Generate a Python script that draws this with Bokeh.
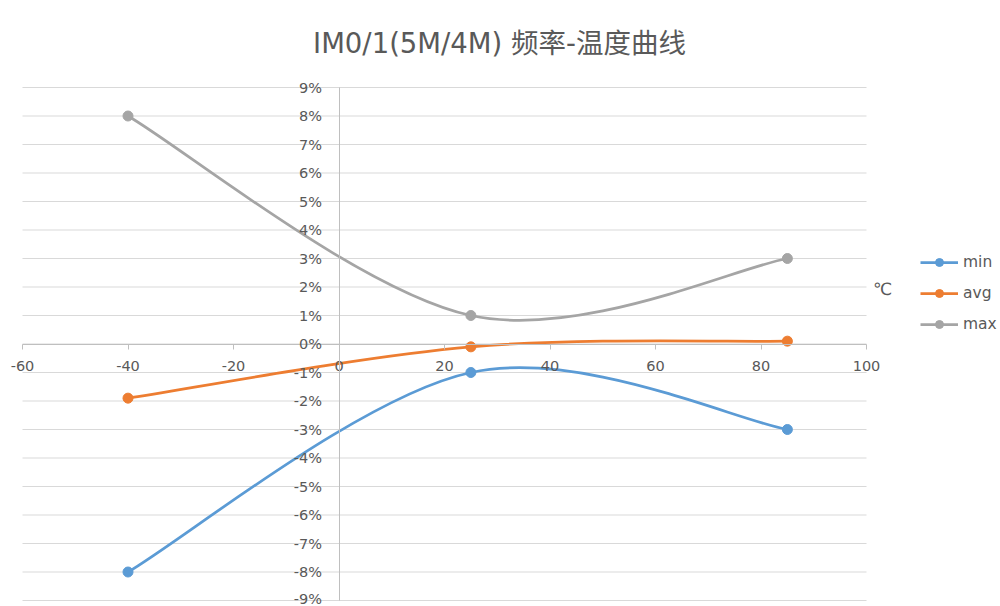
from bokeh.plotting import figure
from bokeh.models import (Range1d, FixedTicker, PrintfTickFormatter, ColumnDataSource,
                          Legend, LegendItem, Label)
from bokeh.embed import file_html
from bokeh.resources import INLINE

# ---------------- data ----------------
title_text = "IM0/1(5M/4M) 频率-温度曲线"
x_unit_label = "℃"
temps = [-40, 25, 85]
series_names = ["min", "avg", "max"]
min_vals = [-8.0, -1.0, -3.0]
avg_vals = [-1.9, -0.1, 0.1]
max_vals = [8.0, 1.0, 3.0]
x_ticks = [-60, -40, -20, 0, 20, 40, 60, 80, 100]
y_ticks = [-9, -8, -7, -6, -5, -4, -3, -2, -1, 0, 1, 2, 3, 4, 5, 6, 7, 8, 9]

# ---------------- style ----------------
series_colors = {"min": "#5B9BD5", "avg": "#ED7D31", "max": "#A5A5A5"}
TEXT = "#595959"
GRID = "#D9D9D9"
AXIS = "#BFBFBF"
FONT = "DejaVu Sans"

W, H = 1000, 606
FRAME_H = H


def smooth_segments(xs, ys):
    """Excel-style smoothed line: cubic Bezier control points (Catmull-Rom)."""
    n = len(xs)
    d = dict(x0=[], y0=[], x1=[], y1=[], cx0=[], cy0=[], cx1=[], cy1=[])
    for i in range(n - 1):
        a = max(i - 1, 0)
        b = min(i + 2, n - 1)
        d["x0"].append(xs[i]); d["y0"].append(ys[i])
        d["x1"].append(xs[i + 1]); d["y1"].append(ys[i + 1])
        d["cx0"].append(xs[i] + (xs[i + 1] - xs[a]) / 6.0)
        d["cy0"].append(ys[i] + (ys[i + 1] - ys[a]) / 6.0)
        d["cx1"].append(xs[i + 1] - (xs[b] - xs[i]) / 6.0)
        d["cy1"].append(ys[i + 1] - (ys[b] - ys[i]) / 6.0)
    return d


# frame mapping: -60 -> x 22, 100 -> x 866 ; 9% -> y 87, -9% -> y 600
xs_per_px = (x_ticks[-1] - x_ticks[0]) / 844.0
ys_per_px = (y_ticks[-1] - y_ticks[0]) / 513.0
x_range = Range1d(x_ticks[0] - 22 * xs_per_px, x_ticks[-1] + (W - 866) * xs_per_px)
y_range = Range1d(y_ticks[0] - (FRAME_H - 600) * ys_per_px, y_ticks[-1] + 87 * ys_per_px)

p = figure(width=W, height=H, x_range=x_range, y_range=y_range,
           output_backend="svg", toolbar_location=None, min_border=0,
           outline_line_color=None, background_fill_color="white")
p.xgrid.visible = False
p.ygrid.visible = False

# horizontal gridlines from -60 to 100
p.segment(x0=[x_ticks[0]] * len(y_ticks), x1=[x_ticks[-1]] * len(y_ticks),
          y0=y_ticks, y1=y_ticks, line_color=GRID, line_width=1)

# axes crossing at zero
xa = p.xaxis[0]
xa.fixed_location = 0
xa.bounds = (x_ticks[0], x_ticks[-1])
xa.ticker = FixedTicker(ticks=x_ticks)
xa.formatter = PrintfTickFormatter(format="%d")
xa.axis_line_color = AXIS
xa.major_tick_line_color = AXIS
xa.major_tick_out = 5
xa.major_tick_in = 0
xa.minor_tick_line_color = None
xa.major_label_text_color = TEXT
xa.major_label_text_font = FONT
xa.major_label_text_font_size = "14.5px"
xa.major_label_standoff = 12

ya = p.yaxis[0]
ya.fixed_location = 0
ya.bounds = (y_ticks[0], y_ticks[-1])
ya.ticker = FixedTicker(ticks=y_ticks)
ya.formatter = PrintfTickFormatter(format="%d%%")
ya.axis_line_color = AXIS
ya.major_tick_line_color = None
ya.major_tick_out = 0
ya.major_tick_in = 0
ya.minor_tick_line_color = None
ya.major_label_text_color = TEXT
ya.major_label_text_font = FONT
ya.major_label_text_font_size = "14.5px"
ya.major_label_standoff = 17

items = []
for name, vals in zip(series_names, [min_vals, avg_vals, max_vals]):
    c = series_colors[name]
    src = ColumnDataSource(smooth_segments(temps, vals))
    p.bezier(x0="x0", y0="y0", x1="x1", y1="y1", cx0="cx0", cy0="cy0",
             cx1="cx1", cy1="cy1", source=src, line_color=c, line_width=2.75)
    leg_line = p.line(x=temps[:1], y=vals[:1], line_color=c, line_width=2.75)
    pts = p.scatter(x=temps, y=vals, size=10, fill_color=c, line_color=c, marker="circle")
    items.append(LegendItem(label=name, renderers=[leg_line, pts]))

legend = Legend(items=items, location=(920, FRAME_H - 334), border_line_color=None,
                background_fill_alpha=0, padding=0, margin=0,
                glyph_width=38, glyph_height=20, label_height=20, spacing=11,
                label_standoff=5, label_text_font=FONT, label_text_font_size="15.5px",
                label_text_color=TEXT)
p.add_layout(legend)

p.add_layout(Label(x=499, y=FRAME_H - 42, x_units="screen", y_units="screen", text=title_text,
                   text_align="center", text_baseline="middle", text_color=TEXT,
                   text_font="'DejaVu Sans', 'Noto Sans CJK SC'", text_font_size="27.5px"))
p.add_layout(Label(x=882, y=FRAME_H - 288, x_units="screen", y_units="screen", text=x_unit_label,
                   text_align="center", text_baseline="middle", text_color=TEXT,
                   text_font=FONT, text_font_size="17px"))

open("out.html", "w").write(file_html(p, INLINE))
